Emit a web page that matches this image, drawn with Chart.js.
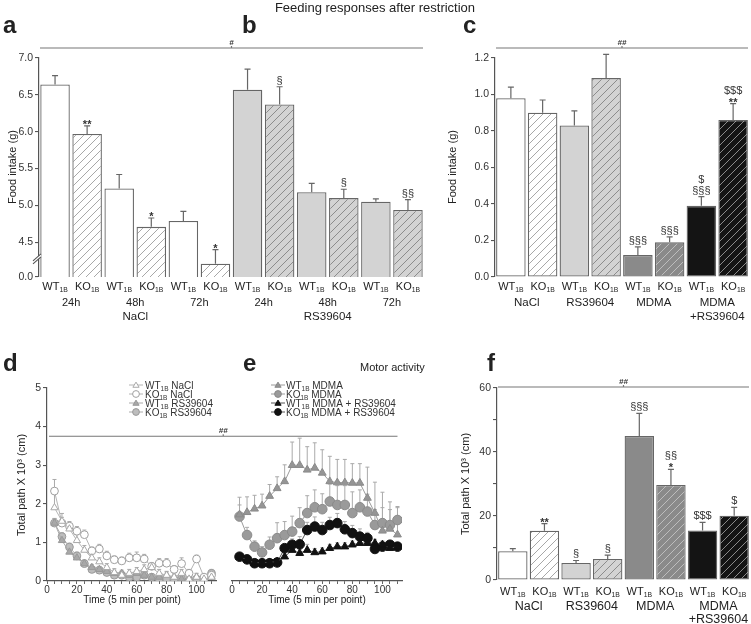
<!DOCTYPE html>
<html>
<head>
<meta charset="utf-8">
<script src="https://cdn.jsdelivr.net/npm/chart.js@4.4.1/dist/chart.umd.min.js"></script>
<style>
html,body{margin:0;padding:0;background:#fff}
#wrap{position:relative;width:751px;height:624px;overflow:hidden;background:#fff;font-family:"Liberation Sans",Arial,Helvetica,sans-serif;color:#222}
#wrap canvas{position:absolute}
.tx{position:absolute;white-space:nowrap;line-height:1}
</style>
</head>
<body>
<div id="wrap"></div>
<script>
// ================= DATA =================
// Panels a + b : food intake after restriction (broken axis)
const abGenotypes = ['WT','KO','WT','KO','WT','KO','WT','KO','WT','KO','WT','KO'];
const abTimes = ['24h','48h','72h','24h','48h','72h'];
const abTreatments = ['NaCl','RS39604'];
const abValues = [6.64,5.97,5.23,4.71,4.79,4.21, 6.57,6.37,5.18,5.10,5.05,4.94];
const abErrors = [0.12,0.11,0.19,0.12,0.13,0.19, 0.28,0.24,0.12,0.12,0.04,0.14];
const abSig = [[],['**'],[],['*'],[],['*'], [],['§'],[],['§'],[],['§§']];
const abYTicks = [4.5,5.0,5.5,6.0,6.5,7.0];
const abAxisBottom = 4.03;   // broken-axis bottom, labelled "0.0"
const abAxisTop = 7.0;
const abBreakAt = 4.29;

// Panel c : food intake
const cGenotypes = ['WT','KO','WT','KO','WT','KO','WT','KO'];
const cTreatments = ['NaCl','RS39604','MDMA','MDMA+RS39604'];
const cTreatmentLines = [['NaCl'],['RS39604'],['MDMA'],['MDMA','+RS39604']];
const cValues = [0.98,0.90,0.83,1.09,0.12,0.19,0.39,0.86];
const cErrors = [0.06,0.07,0.08,0.13,0.045,0.03,0.05,0.09];
const cSig = [[],[],[],[],['§§§'],['§§§'],['$','§§§'],['$$$','**']];
const cYTicks = [0,0.2,0.4,0.6,0.8,1.0,1.2];

// Panel f : total path
const fGenotypes = ['WT','KO','WT','KO','WT','KO','WT','KO'];
const fTreatments = ['NaCl','RS39604','MDMA','MDMA+RS39604'];
const fTreatmentLines = [['NaCl'],['RS39604'],['MDMA'],['MDMA','+RS39604']];
const fValues = [9.0,15.4,5.3,6.6,45.0,29.7,15.5,20.1];
const fErrors = [0.8,2.2,0.8,1.2,7.1,4.9,2.5,2.6];
const fSig = [[],['**'],['§'],['§'],['§§§'],['§§','*'],['$$$'],['$']];
const fYTicks = [0,10,20,30,40,50,60];
const fYLabelled = [0,20,40,60];

// Panels d + e : motor activity time course
const timePoints = [5,10,15,20,25,30,35,40,45,50,55,60,65,70,75,80,85,90,95,100,105,110];
const timeTicks = [0,20,40,60,80,100];
const pathTicks = [0,1,2,3,4,5];

const dWtNacl    = [1.90,1.55,1.35,1.05,0.80,0.60,0.50,0.35,0.22,0.15,0.20,0.25,0.30,0.35,0.20,0.15,0.10,0.20,0.05,0.10,0.05,0.10];
const dWtNaclErr = [0.35,0.20,0.15,0.15,0.12,0.10,0.10,0.10,0.10,0.10,0.10,0.10,0.12,0.10,0.10,0.10,0.10,0.10,0.05,0.10,0.05,0.05];
const dKoNacl    = [2.33,1.50,1.42,1.29,1.20,0.78,0.83,0.65,0.55,0.52,0.60,0.60,0.57,0.38,0.46,0.46,0.30,0.45,0.20,0.57,0.10,0.15];
const dKoNaclErr = [0.30,0.15,0.12,0.12,0.12,0.10,0.12,0.12,0.10,0.10,0.12,0.15,0.12,0.10,0.12,0.12,0.10,0.15,0.10,0.10,0.05,0.05];
const dWtRs      = [1.50,1.05,0.75,0.60,0.45,0.35,0.30,0.25,0.20,0.20,0.15,0.20,0.15,0.10,0.10,0.15,0.10,0.05,0.10,0.10,0.05,0.10];
const dWtRsErr   = [0.12,0.12,0.10,0.10,0.10,0.08,0.08,0.08,0.08,0.08,0.08,0.08,0.08,0.08,0.08,0.08,0.08,0.08,0.08,0.08,0.08,0.08];
const dKoRs      = [1.50,1.15,0.88,0.65,0.45,0.30,0.28,0.22,0.15,0.15,0.10,0.10,0.15,0.10,0.05,0.05,0.05,0.05,0.00,0.05,0.05,0.20];
const dKoRsErr   = [0.12,0.10,0.10,0.10,0.08,0.08,0.08,0.08,0.08,0.08,0.08,0.08,0.08,0.08,0.08,0.08,0.08,0.08,0.08,0.08,0.08,0.10];

const eWtMdma      = [1.72,1.78,1.87,1.95,2.20,2.40,2.58,3.00,3.00,2.88,2.93,2.80,2.58,2.55,2.55,2.54,2.54,2.15,1.76,1.30,1.35,1.20];
const eWtMdmaErr   = [0.45,0.40,0.35,0.30,0.30,0.30,0.43,0.60,0.70,0.60,0.65,0.60,0.65,0.60,0.60,0.50,0.50,0.80,0.80,1.00,0.70,0.70];
const eKoMdma      = [1.67,1.19,0.89,0.74,0.94,1.11,1.19,1.28,1.50,1.76,1.91,1.86,2.06,1.97,1.97,1.76,1.91,1.80,1.45,1.50,1.45,1.58];
const eKoMdmaErr   = [0.30,0.20,0.15,0.15,0.20,0.40,0.35,0.40,0.40,0.45,0.45,0.40,0.45,0.50,0.50,0.55,0.45,0.45,0.40,0.40,0.40,0.35];
const eWtMdmaRs    = [0.62,0.55,0.46,0.48,0.48,0.50,0.63,0.80,0.72,0.80,0.74,0.76,0.85,0.89,0.89,0.94,0.98,0.98,0.98,0.94,0.85,0.89];
const eWtMdmaRsErr = [0.05,0.05,0.05,0.05,0.05,0.05,0.10,0.15,0.10,0.15,0.10,0.10,0.10,0.10,0.10,0.10,0.10,0.10,0.10,0.10,0.10,0.10];
const eKoMdmaRs    = [0.63,0.56,0.46,0.46,0.46,0.48,0.85,0.94,0.95,1.32,1.41,1.32,1.45,1.50,1.34,1.24,1.15,1.11,0.83,0.89,0.94,0.89];
const eKoMdmaRsErr = [0.05,0.05,0.10,0.10,0.10,0.10,0.10,0.15,0.20,0.20,0.25,0.20,0.20,0.25,0.20,0.20,0.20,0.15,0.10,0.10,0.10,0.10];
const deSignificanceLevel = 3.75;

// ================= STYLE / HELPERS =================
const FONT = '"Liberation Sans", Arial, Helvetica, sans-serif';
Chart.defaults.font.family = FONT;
Chart.defaults.color = '#333';
const PALETTE = {
  'NaCl':         {fill:'#ffffff', hatch:'#a8a8a8'},
  'RS39604':      {fill:'#d3d3d3', hatch:'#8c8c8c'},
  'MDMA':         {fill:'#8a8a8a', hatch:'#bdbdbd'},
  'MDMA+RS39604': {fill:'#141414', hatch:'#8a8a8a'}
};
const wrap = document.getElementById('wrap');

function mkCanvas(l,t,w,h){
  const c = document.createElement('canvas');
  c.width = w; c.height = h;
  c.style.left = l+'px'; c.style.top = t+'px';
  c.style.width = w+'px'; c.style.height = h+'px';
  wrap.appendChild(c);
  return c;
}
function addText(txt, x, y, o){
  o = o || {};
  const d = document.createElement('div');
  d.className = 'tx';
  d.textContent = txt;
  d.style.fontSize = (o.size||11)+'px';
  if (o.bold) d.style.fontWeight = 'bold';
  if (o.color) d.style.color = o.color;
  d.style.left = x+'px'; d.style.top = y+'px';
  if (o.rot) d.style.transform = 'translate(-50%,-50%) rotate(-90deg)';
  else if (o.center) d.style.transform = 'translateX(-50%)';
  wrap.appendChild(d);
}
function hatch(ctx, bg, line){
  const t = document.createElement('canvas'); t.width = 8; t.height = 8;
  const g = t.getContext('2d');
  g.fillStyle = bg; g.fillRect(0,0,8,8);
  g.strokeStyle = line; g.lineWidth = 1;
  g.beginPath();
  g.moveTo(-1,9); g.lineTo(9,-1);
  g.moveTo(-1,1); g.lineTo(1,-1);
  g.moveTo(7,9); g.lineTo(9,7);
  g.stroke();
  return ctx.createPattern(t,'repeat');
}
// text with subscript parts: [text, size, dy]
function subText(ctx, x, y, parts, align){
  let w = 0;
  parts.forEach(p=>{ ctx.font = p[1]+'px '+FONT; w += ctx.measureText(p[0]).width; });
  let cx = align==='center' ? x - w/2 : x;
  ctx.textAlign = 'left';
  parts.forEach(p=>{ ctx.font = p[1]+'px '+FONT; ctx.fillText(p[0], cx, y + (p[2]||0)); cx += ctx.measureText(p[0]).width; });
}
function marker(ctx, style, x, y, r, fill, stroke){
  ctx.beginPath();
  if (style==='triangle'){
    for (let k=0;k<3;k++){ const a = k*2*Math.PI/3; const px = x+Math.sin(a)*r, py = y-Math.cos(a)*r*0.95+r*0.15; if(k) ctx.lineTo(px,py); else ctx.moveTo(px,py); }
    ctx.closePath();
  } else ctx.arc(x,y,r,0,Math.PI*2);
  ctx.fillStyle = fill; ctx.fill();
  ctx.strokeStyle = stroke; ctx.lineWidth = 1; ctx.stroke();
}

// ---- plugins ----
const errPlugin = {
  id:'errbars',
  afterDatasetsDraw(chart, args, o){
    const ctx = chart.ctx, y = chart.scales.y, meta = chart.getDatasetMeta(0);
    const vals = chart.data.datasets[0].data;
    ctx.save(); ctx.strokeStyle = '#666'; ctx.lineWidth = 1.2;
    meta.data.forEach((el,i)=>{
      const yt = y.getPixelForValue(vals[i] + o.errors[i]);
      ctx.beginPath(); ctx.moveTo(el.x, el.y); ctx.lineTo(el.x, yt);
      ctx.moveTo(el.x-3, yt); ctx.lineTo(el.x+3, yt); ctx.stroke();
    });
    ctx.restore();
  }
};
const sigPlugin = {
  id:'sig',
  afterDatasetsDraw(chart, args, o){
    const ctx = chart.ctx, y = chart.scales.y, meta = chart.getDatasetMeta(0);
    const vals = chart.data.datasets[0].data;
    ctx.save(); ctx.fillStyle = '#333'; ctx.textAlign = 'center'; ctx.textBaseline = 'alphabetic';
    meta.data.forEach((el,i)=>{
      const lines = o.sig[i]; if (!lines || !lines.length) return;
      let yy = y.getPixelForValue(vals[i] + o.errors[i]) - 3;
      for (let k = lines.length-1; k >= 0; k--){
        const isStar = lines[k].indexOf('*') >= 0;
        ctx.font = (isStar ? 'bold 11px ' : (o.size||11)+'px ') + FONT;
        ctx.fillText(lines[k], el.x, yy + (isStar ? 5 : 0));
        yy -= isStar ? 7 : 11;
      }
    });
    ctx.restore();
  }
};
const catPlugin = {
  id:'cats',
  afterDraw(chart, args, o){
    const ctx = chart.ctx, meta = chart.getDatasetMeta(0), b = chart.chartArea.bottom;
    ctx.save(); ctx.fillStyle = '#222'; ctx.textBaseline = 'alphabetic';
    o.genotypes.forEach((g,i)=>{
      subText(ctx, meta.data[i].x, b + o.dy[0], [[g, o.size], ['1B', o.size*0.62, 2]], 'center');
    });
    o.rows.forEach(row=>{
      row.groups.forEach((lines, gi)=>{
        const i0 = gi*row.span, i1 = i0 + row.span - 1;
        const cx = (meta.data[i0].x + meta.data[i1].x)/2;
        ctx.font = row.size+'px '+FONT; ctx.textAlign = 'center';
        lines.forEach((t,k)=> ctx.fillText(t, cx, b + o.dy[row.row + k]));
      });
    });
    ctx.restore();
  }
};
const topLinePlugin = {
  id:'topline',
  afterDraw(chart, args, o){
    const ctx = chart.ctx, a = chart.chartArea;
    const yy = a.top - o.offset;
    const x0 = a.left + 1, x1 = a.right - 1, xm = (x0 + x1)/2;
    ctx.save(); ctx.strokeStyle = '#777'; ctx.lineWidth = 1.2;
    ctx.beginPath(); ctx.moveTo(x0, yy); ctx.lineTo(x1, yy); ctx.moveTo(xm, yy); ctx.lineTo(xm, yy-2); ctx.stroke();
    ctx.fillStyle = '#333'; ctx.font = 'italic bold 8px '+FONT; ctx.textAlign = 'center';
    ctx.fillText(o.mark, xm, yy - 3);
    ctx.restore();
  }
};
const breakPlugin = {
  id:'axisbreak',
  afterDraw(chart, args, o){
    if (!o.on) return;
    const ctx = chart.ctx, y = chart.scales.y.getPixelForValue(o.at), x = chart.chartArea.left;
    ctx.save();
    ctx.fillStyle = '#fff';
    ctx.beginPath(); ctx.moveTo(x-6,y+3); ctx.lineTo(x+2,y-4); ctx.lineTo(x+2,y-1); ctx.lineTo(x-6,y+6); ctx.closePath(); ctx.fill();
    ctx.strokeStyle = '#555'; ctx.lineWidth = 1.1;
    ctx.beginPath(); ctx.moveTo(x-6,y+3); ctx.lineTo(x+2,y-4); ctx.moveTo(x-6,y+6); ctx.lineTo(x+2,y-1); ctx.stroke();
    ctx.restore();
  }
};

function yAxis(min, max, ticks, width, labelFn, size){
  return {
    min:min, max:max,
    afterBuildTicks: s => { s.ticks = ticks.map(v=>({value:v})); },
    afterFit: s => { s.width = width; },
    ticks:{ callback: labelFn, font:{size:size||10.5}, padding:2, autoSkip:false, color:'#333' },
    grid:{ drawOnChartArea:false, drawTicks:true, tickLength:4, color:'#555', lineWidth:1.1 },
    border:{ display:true, color:'#555', width:1.2 }
  };
}
const hiddenX = { grid:{display:false}, border:{display:false}, ticks:{display:false}, afterFit: s => { s.height = 0; } };

function barChart(rect, pad, cfg){
  const cv = mkCanvas(rect[0],rect[1],rect[2],rect[3]);
  const ctx = cv.getContext('2d');
  const fills = cfg.genotypes.map((g,i)=>{ const p = PALETTE[cfg.treatOf(i)]; return g==='KO' ? hatch(ctx,p.fill,p.hatch) : p.fill; });
  return new Chart(cv, {
    type:'bar',
    data:{ labels: cfg.labels, datasets:[{ data: cfg.values, backgroundColor: fills, borderColor:'#666', borderWidth:1.3, borderSkipped:false, barPercentage: cfg.barPct, categoryPercentage:1 }] },
    options:{
      responsive:false, animation:false, events:[],
      layout:{ padding: pad },
      plugins:{
        legend:{display:false}, tooltip:{enabled:false},
        errbars:{ errors: cfg.errors },
        sig:{ sig: cfg.sig, errors: cfg.errors },
        cats:{ genotypes: cfg.genotypes, size: cfg.labelSize, dy: cfg.dy, rows: cfg.rows },
        topline:{ offset: cfg.lineOffset, mark: cfg.mark },
        axisbreak:{ on: !!cfg.breakAt, at: cfg.breakAt }
      },
      scales:{ x: hiddenX, y: cfg.y }
    },
    plugins:[errPlugin, sigPlugin, catPlugin, topLinePlugin, breakPlugin]
  });
}

// ================= PANELS a+b =================
barChart([0,35,430,295], {left:9, top:23, right:6, bottom:53}, {
  genotypes: abGenotypes,
  labels: abGenotypes.map((g,i)=> g+'1B '+abTimes[Math.floor(i/2)]+' '+abTreatments[Math.floor(i/6)]),
  treatOf: i => abTreatments[Math.floor(i/6)],
  values: abValues, errors: abErrors, sig: abSig, barPct: 0.92,
  labelSize: 11, dy:[13,29,43],
  rows:[ {row:1, span:2, size:11, groups: abTimes.map(t=>[t])}, {row:2, span:6, size:11.5, groups: abTreatments.map(t=>[t])} ],
  lineOffset: 10, mark:'#', breakAt: abBreakAt,
  y: yAxis(abAxisBottom, abAxisTop, [abAxisBottom].concat(abYTicks), 30, v => (v===abAxisBottom ? '0.0' : v.toFixed(1)))
});

// ================= PANEL c =================
barChart([430,35,321,295], {left:35, top:23, right:2, bottom:53}, {
  genotypes: cGenotypes,
  labels: cGenotypes.map((g,i)=> g+'1B '+cTreatments[Math.floor(i/2)]),
  treatOf: i => cTreatments[Math.floor(i/2)],
  values: cValues, errors: cErrors, sig: cSig, barPct: 0.93,
  labelSize: 11, dy:[13,29,43],
  rows:[ {row:1, span:2, size:11.5, groups: cTreatmentLines} ],
  lineOffset: 10, mark:'##',
  y: yAxis(0, 1.2, cYTicks, 30, v => v.toFixed(1))
});

// ================= PANEL f =================
barChart([430,370,321,254], {left:37, top:18, right:1, bottom:44}, {
  genotypes: fGenotypes,
  labels: fGenotypes.map((g,i)=> g+'1B '+fTreatments[Math.floor(i/2)]),
  treatOf: i => fTreatments[Math.floor(i/2)],
  values: fValues, errors: fErrors, sig: fSig, barPct: 0.93,
  labelSize: 11, dy:[15,29.5,43],
  rows:[ {row:1, span:2, size:12.5, groups: fTreatmentLines} ],
  lineOffset: 1, mark:'##',
  y: yAxis(0, 60, fYTicks, 30, v => (fYLabelled.indexOf(v) >= 0 ? String(v) : ''))
});

// ================= PANELS d, e =================
const lineErrPlugin = {
  id:'lineerr',
  beforeDatasetsDraw(chart, args, o){
    const ctx = chart.ctx, y = chart.scales.y;
    ctx.save(); ctx.strokeStyle = '#aaa'; ctx.lineWidth = 1;
    chart.data.datasets.forEach((ds, di)=>{
      const meta = chart.getDatasetMeta(di);
      meta.data.forEach((el, i)=>{
        const yt = y.getPixelForValue(ds.data[i].y + o.errors[di][i]);
        ctx.beginPath(); ctx.moveTo(el.x, el.y); ctx.lineTo(el.x, yt);
        ctx.moveTo(el.x-2, yt); ctx.lineTo(el.x+2, yt); ctx.stroke();
      });
    });
    ctx.restore();
  }
};
const legendPlugin = {
  id:'leg',
  afterDraw(chart, args, o){
    const ctx = chart.ctx, a = chart.chartArea;
    ctx.save(); ctx.textBaseline = 'alphabetic';
    chart.data.datasets.forEach((ds, i)=>{
      const yy = a.top + o.dy + i*9, sx = a.left + o.sx;
      ctx.strokeStyle = ds.borderColor; ctx.lineWidth = 1;
      ctx.beginPath(); ctx.moveTo(sx-7, yy); ctx.lineTo(sx+7, yy); ctx.stroke();
      marker(ctx, ds.pointStyle, sx, yy, ds.pointStyle==='triangle'?3.6:3.4, ds.pointBackgroundColor, ds.pointBorderColor);
      ctx.fillStyle = '#333';
      subText(ctx, sx + o.tx, yy + 3.5, [[o.names[i][0],10],['1B',6.5,2],[o.names[i][1],10]], 'left');
    });
    ctx.restore();
  }
};
function series(vals, style, fill, stroke, line, r, order){
  return { data: timePoints.map((t,i)=>({x:t, y:vals[i]})), pointStyle: style, pointRadius: r,
           pointBackgroundColor: fill, pointBorderColor: stroke, pointBorderWidth: 1,
           borderColor: line, borderWidth: 1, fill:false, tension:0, order: order };
}
function timeChart(rect, pad, showY, datasets, errors, names, leg){
  const cv = mkCanvas(rect[0],rect[1],rect[2],rect[3]);
  return new Chart(cv, {
    type:'line',
    data:{ datasets: datasets },
    options:{
      responsive:false, animation:false, events:[],
      layout:{ padding: pad },
      plugins:{ legend:{display:false}, tooltip:{enabled:false},
                lineerr:{ errors: errors }, leg:{ names: names, sx: leg.sx, tx: leg.tx, dy: leg.dy } },
      scales:{
        x:{ type:'linear', min:0, max:113,
            afterBuildTicks: s => { s.ticks = timePoints.concat([0]).sort((p,q)=>p-q).map(v=>({value:v})); },
            afterFit: s => { s.height = 18; },
            ticks:{ callback: v => (timeTicks.indexOf(v) >= 0 ? String(v) : ''), font:{size:10}, padding:0, autoSkip:false, maxRotation:0, color:'#333' },
            grid:{ drawOnChartArea:false, drawTicks:true, tickLength:3, color:'#666' },
            border:{ display:true, color:'#555', width:1.2 } },
        y: showY ? yAxis(0, 5, pathTicks, 25, v => String(v), 10.5)
                 : { display:false, min:0, max:5 }
      }
    },
    plugins:[lineErrPlugin, legendPlugin]
  });
}

const chartD = timeChart([0,370,232,254], {left:22, top:18, right:16, bottom:25}, true, [
    series(dWtNacl, 'triangle', '#ffffff', '#a8a8a8', '#b4b4b4', 4.2, 0),
    series(dKoNacl, 'circle',   '#ffffff', '#a0a0a0', '#b4b4b4', 3.9, 0),
    series(dWtRs,   'triangle', '#a8a8a8', '#999999', '#aaaaaa', 4.2, 1),
    series(dKoRs,   'circle',   '#bdbdbd', '#9a9a9a', '#aaaaaa', 3.9, 1)
  ], [dWtNaclErr, dKoNaclErr, dWtRsErr, dKoRsErr],
  [['WT',' NaCl'],['KO',' NaCl'],['WT',' RS39604'],['KO',' RS39604']],
  {sx:89, tx:9, dy:-3});

const chartE = timeChart([222,370,190,254], {left:10, top:18, right:10, bottom:25}, false, [
    series(eWtMdma,   'triangle', '#959595', '#8a8a8a', '#9a9a9a', 4.5, 1),
    series(eKoMdma,   'circle',   '#9a9a9a', '#8a8a8a', '#9a9a9a', 4.8, 1),
    series(eWtMdmaRs, 'triangle', '#111111', '#111111', '#555555', 4.5, 0),
    series(eKoMdmaRs, 'circle',   '#111111', '#111111', '#555555', 4.8, 0)
  ], [eWtMdmaErr, eKoMdmaErr, eWtMdmaRsErr, eKoMdmaRsErr],
  [['WT',' MDMA'],['KO',' MDMA'],['WT',' MDMA + RS39604'],['KO',' MDMA + RS39604']],
  {sx:46, tx:8, dy:-3});

// significance line spanning d and e, placed through the charts' scales
(function(){
  const ov = mkCanvas(0,0,751,624);
  ov.style.pointerEvents = 'none';
  const ctx = ov.getContext('2d');
  const yy = 370 + chartD.scales.y.getPixelForValue(deSignificanceLevel);
  const x0 = chartD.chartArea.left + 2;
  const x1 = 222 + chartE.scales.x.getPixelForValue(timePoints[timePoints.length-1]);
  const xm = (x0 + x1)/2;
  ctx.strokeStyle = '#777'; ctx.lineWidth = 1.2;
  ctx.beginPath(); ctx.moveTo(x0, yy); ctx.lineTo(x1, yy); ctx.moveTo(xm, yy); ctx.lineTo(xm, yy-2); ctx.stroke();
  ctx.fillStyle = '#333'; ctx.font = 'italic bold 8px '+FONT; ctx.textAlign = 'center';
  ctx.fillText('##', xm, yy - 3);
})();

// ================= TEXT =================
addText('Feeding responses after restriction', 375, 1, {size:13, center:true});
addText('a', 3, 13, {size:24, bold:true});
addText('b', 242, 13, {size:24, bold:true});
addText('c', 463, 13, {size:24, bold:true});
addText('d', 3, 351, {size:24, bold:true});
addText('e', 243, 351, {size:24, bold:true});
addText('f', 487, 351, {size:24, bold:true});
addText('Motor activity', 360, 362, {size:11});
addText('Food intake (g)', 12, 167, {size:11, rot:true});
addText('Food intake (g)', 452, 167, {size:11, rot:true});
addText('Total path X 10³ (cm)', 21, 485, {size:11, rot:true});
addText('Total path X 10³ (cm)', 465, 484, {size:11, rot:true});
addText('Time (5 min per point)', 132, 595, {size:10, center:true});
addText('Time (5 min per point)', 317, 595, {size:10, center:true});
</script>
</body>
</html>
